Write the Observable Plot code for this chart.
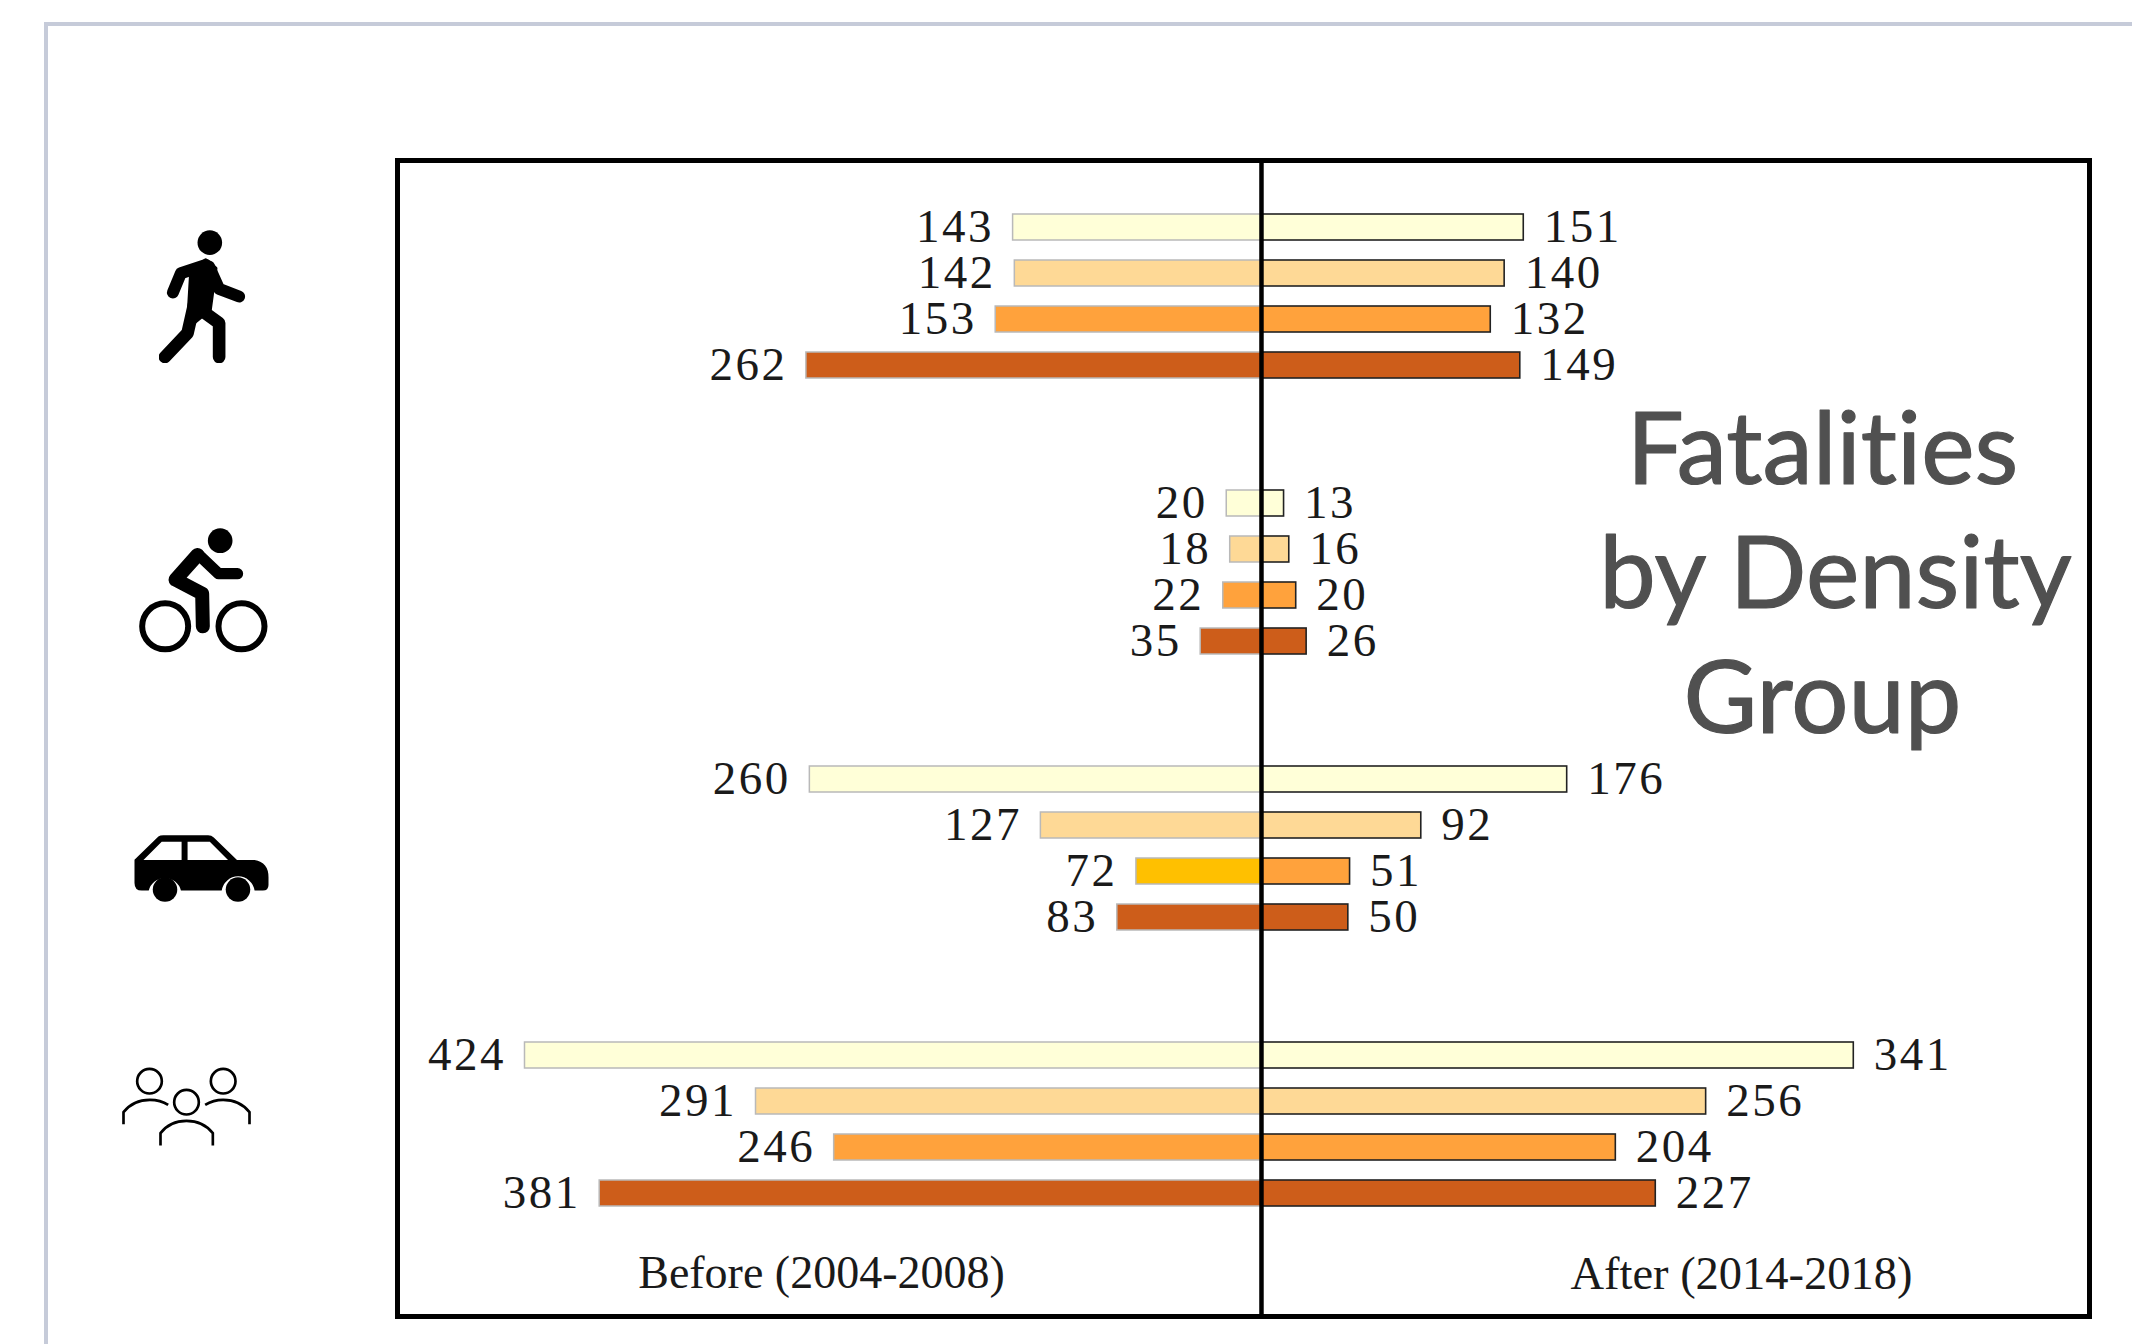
<!DOCTYPE html>
<html>
<head>
<meta charset="utf-8">
<script src="https://cdn.jsdelivr.net/npm/d3@7"></script>
<script src="https://cdn.jsdelivr.net/npm/@observablehq/plot@0.6"></script>
<style>
  html, body { margin: 0; padding: 0; background: #fff; }
  #chart { position: relative; width: 2132px; height: 1344px; overflow: hidden; }
  #card { position: absolute; left: 44px; top: 22px; right: -10px; bottom: -10px; border: 4px solid #c6cbd9; }
  #chart svg { position: absolute; left: 0; top: 0; }
</style>
</head>
<body>
<div id="chart"><div id="card"></div></div>
<script>
const modes = ["Pedestrian", "Bicycle", "Vehicle", "All"];
const densityGroups = ["Group 1", "Group 2", "Group 3", "Group 4"];
const before = [
  [143, 142, 153, 262],
  [20, 18, 22, 35],
  [260, 127, 72, 83],
  [424, 291, 246, 381]
];
const after = [
  [151, 140, 132, 149],
  [13, 16, 20, 26],
  [176, 92, 51, 50],
  [341, 256, 204, 227]
];
const groupColors = ["#ffffd8", "#fed996", "#ffa23c", "#cd5d1a"];
const beforeOverride = "#ffc000"; // the one differently coloured bar: Vehicle, Group 3
const periodLabels = ["Before (2004-2008)", "After (2014-2018)"];
const titleLines = ["Fatalities", "by Density", "Group"];

// Row domain: four bars per mode, with two blank rows between the modes
const rowDomain = [];
modes.forEach((m, i) => {
  densityGroups.forEach(g => rowDomain.push(m + "|" + g));
  if (i < modes.length - 1) rowDomain.push("gap" + i + "a", "gap" + i + "b");
});

const rows = modes.flatMap((m, i) => densityGroups.map((g, j) => ({
  row: m + "|" + g,
  before: before[i][j],
  after: after[i][j],
  colorBefore: (m === "Vehicle" && j === 2) ? beforeOverride : groupColors[j],
  colorAfter: groupColors[j]
})));

// Icons
const svgDoc = (vb, body) => "data:image/svg+xml," + encodeURIComponent(
  `<svg xmlns="http://www.w3.org/2000/svg" viewBox="${vb}">${body}</svg>`);

const walker = svgDoc("85 60 260 400", `
  <circle cx="237" cy="98" r="37"/>
  <path d="M180 185L225 150L255 175L238 300L170 355Z" stroke="#000" stroke-width="10" stroke-linejoin="round"/>
  <g fill="none" stroke="#000" stroke-linecap="round" stroke-linejoin="round">
    <path stroke-width="36" d="M126 248L150 190L225 165"/>
    <path stroke-width="36" d="M235 170L265 237L325 260"/>
    <path stroke-width="38" d="M102 442L170 370L195 260"/>
    <path stroke-width="38" d="M210 300L265 340L265 442"/>
  </g>`);

const cyclist = svgDoc("115 85 390 375", `
  <circle cx="360" cy="123" r="37"/>
  <circle cx="195" cy="380" r="69" fill="none" stroke="#000" stroke-width="18"/>
  <circle cx="424" cy="380" r="69" fill="none" stroke="#000" stroke-width="18"/>
  <g fill="none" stroke="#000" stroke-linecap="round" stroke-linejoin="round">
    <path stroke-width="34" d="M412 222L355 222L295 165"/>
    <path stroke-width="42" d="M292 166L226 240L306 282L308 380"/>
  </g>`);

const car = svgDoc("100 108 410 207", `
  <path d="M103 182L175 112Q180 108 190 108L325 108Q335 108 342 115L412 183L465 183Q507 190 507 235L507 258Q507 275 490 275L465 275A50 50 0 0 0 366 275L243 275A50 50 0 0 0 146 275L125 275Q103 275 103 252Z"/>
  <path fill="#fff" d="M130 183L185 128L245 128L245 183Z M263 128L330 128L385 183L263 183Z"/>
  <circle cx="195" cy="272" r="37"/>
  <circle cx="415" cy="272" r="37"/>`);

const people = svgDoc("65 805 390 240", `
  <g fill="none" stroke="#000" stroke-width="8">
    <circle cx="149" cy="849" r="37"/>
    <circle cx="370" cy="849" r="37"/>
    <circle cx="260" cy="912" r="37"/>
    <path d="M71 978L71 942Q100 905 150 905Q182 905 205 920"/>
    <path d="M316 920Q340 905 370 905Q420 905 449 942L449 978"/>
    <path d="M182 1042L182 1005Q210 968 260 968Q310 968 339 1005L339 1042"/>
  </g>`);

const frameLeft = 397;
const icons = [
  {src: walker,  mode: "Pedestrian", ref: 1, w: 87,  h: 133, cx: 202, dy: 23},
  {src: cyclist, mode: "Bicycle",    ref: 1, w: 130, h: 125, cx: 203, dy: 41},
  {src: car,     mode: "Vehicle",    ref: 1, w: 136, h: 69,  cx: 201, dy: 44},
  {src: people,  mode: "All",        ref: 1, w: 130, h: 80,  cx: 186, dy: 5}
];

const serif = "'Liberation Serif', serif";

// Styles that Plot has no option for, set on the rendered text elements
const withTextStyle = (name, value) => function (index, scales, values, dimensions, context, next) {
  const g = next(index, scales, values, dimensions, context);
  d3.select(g).selectAll("text").style(name, value);
  return g;
};
const numberStyle = {
  fontFamily: serif, fontSize: 47, fill: "#1a1a1a", dy: -1,
  render: withTextStyle("letter-spacing", "2.5px")
};

const plot = Plot.plot({
  width: 2132,
  height: 1344,
  marginLeft: frameLeft,
  marginRight: 43,
  marginTop: 160,
  marginBottom: 28,
  style: {background: "transparent", overflow: "visible"},
  x: {domain: [-497.4, 476.7], axis: null},
  y: {
    domain: rowDomain,
    range: [203.25, 1217.5],
    paddingInner: 0.44,
    paddingOuter: 0.22,
    axis: null
  },
  marks: [
    Plot.barX(rows, {y: "row", x1: 0, x2: d => -d.before, fill: "colorBefore", stroke: "#b9b9b9", strokeWidth: 1.5}),
    Plot.barX(rows, {y: "row", x1: 0, x2: "after", fill: "colorAfter", stroke: "#222", strokeWidth: 1.6}),
    Plot.text(rows, {
      y: "row", x: d => -d.before, text: "before", textAnchor: "end", dx: -19,
      ...numberStyle
    }),
    Plot.text(rows, {
      y: "row", x: "after", text: "after", textAnchor: "start", dx: 20,
      ...numberStyle
    }),
    Plot.ruleX([0], {stroke: "#000", strokeWidth: 4.5}),
    Plot.frame({stroke: "#000", strokeWidth: 5}),
    Plot.text([periodLabels[0]], {
      frameAnchor: "bottom-left", dx: 424, dy: -43, lineAnchor: "middle", textAnchor: "middle",
      text: d => d, fontFamily: serif, fontSize: 46, fill: "#1a1a1a"
    }),
    Plot.text([periodLabels[1]], {
      frameAnchor: "bottom-left", dx: 1344, dy: -42, lineAnchor: "middle", textAnchor: "middle",
      text: d => d, fontFamily: serif, fontSize: 46.5, fill: "#1a1a1a"
    }),
    ...titleLines.map((line, i) => Plot.text([line], {
      frameAnchor: "top-left",
      dx: [1425, 1438, 1425][i],
      dy: [291, 415, 540][i],
      lineAnchor: "middle",
      textAnchor: "middle",
      text: d => d,
      fontFamily: "Lato, sans-serif",
      fontSize: 101,
      fill: "#505050",
      stroke: "#505050",
      strokeWidth: 1.2,
      render: withTextStyle("font-variant-ligatures", "none")
    })),
    ...icons.map(ic => Plot.image([ic], {
      src: "src",
      y: d => d.mode + "|" + densityGroups[d.ref],
      frameAnchor: "left",
      dx: ic.cx - frameLeft,
      dy: ic.dy,
      width: "w",
      height: "h"
    }))
  ]
});
document.getElementById("chart").appendChild(plot);
</script>
</body>
</html>
